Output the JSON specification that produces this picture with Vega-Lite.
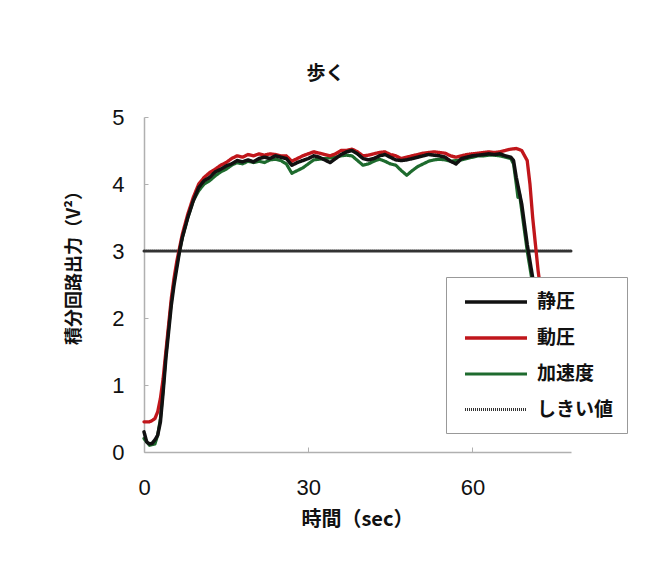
{
  "$schema": "https://vega.github.io/schema/vega-lite/v6.json",
  "autosize": {"type": "none"},
  "width": 427,
  "height": 335,
  "padding": {"left": 144, "top": 117, "right": 95, "bottom": 119},
  "background": "white",
  "config": {
    "view": {"stroke": null},
    "font": "Noto Sans CJK JP"
  },
  "title": {
    "text": "歩く",
    "fontSize": 19,
    "fontWeight": "bold",
    "font": "Noto Sans CJK JP",
    "color": "#111",
    "offset": 22,
    "dx": -32
  },
  "data": {
    "values": [
      {"s": "しきい値", "t": 0, "v": 3},
      {"s": "しきい値", "t": 78, "v": 3},

      {"s": "加速度", "t": 0, "v": 0.2}, {"s": "加速度", "t": 1, "v": 0.1}, {"s": "加速度", "t": 2, "v": 0.12},
      {"s": "加速度", "t": 2.5, "v": 0.25}, {"s": "加速度", "t": 3, "v": 0.5}, {"s": "加速度", "t": 3.5, "v": 0.95},
      {"s": "加速度", "t": 4, "v": 1.45}, {"s": "加速度", "t": 4.5, "v": 1.85}, {"s": "加速度", "t": 5, "v": 2.25},
      {"s": "加速度", "t": 5.5, "v": 2.55}, {"s": "加速度", "t": 6, "v": 2.8}, {"s": "加速度", "t": 6.5, "v": 3.0},
      {"s": "加速度", "t": 7, "v": 3.2}, {"s": "加速度", "t": 8, "v": 3.5}, {"s": "加速度", "t": 9, "v": 3.75},
      {"s": "加速度", "t": 10, "v": 3.9}, {"s": "加速度", "t": 11, "v": 4.0}, {"s": "加速度", "t": 12, "v": 4.05},
      {"s": "加速度", "t": 13, "v": 4.12}, {"s": "加速度", "t": 14, "v": 4.18}, {"s": "加速度", "t": 15, "v": 4.22},
      {"s": "加速度", "t": 16, "v": 4.28}, {"s": "加速度", "t": 17, "v": 4.32}, {"s": "加速度", "t": 18, "v": 4.3},
      {"s": "加速度", "t": 19, "v": 4.34}, {"s": "加速度", "t": 20, "v": 4.32}, {"s": "加速度", "t": 21, "v": 4.34},
      {"s": "加速度", "t": 22, "v": 4.32}, {"s": "加速度", "t": 23, "v": 4.36}, {"s": "加速度", "t": 24, "v": 4.37},
      {"s": "加速度", "t": 25, "v": 4.35}, {"s": "加速度", "t": 26, "v": 4.3}, {"s": "加速度", "t": 27, "v": 4.16},
      {"s": "加速度", "t": 28, "v": 4.2}, {"s": "加速度", "t": 29, "v": 4.24}, {"s": "加速度", "t": 30, "v": 4.3},
      {"s": "加速度", "t": 31, "v": 4.36}, {"s": "加速度", "t": 32, "v": 4.37}, {"s": "加速度", "t": 33, "v": 4.38},
      {"s": "加速度", "t": 34, "v": 4.39}, {"s": "加速度", "t": 35, "v": 4.4}, {"s": "加速度", "t": 36, "v": 4.42},
      {"s": "加速度", "t": 37, "v": 4.43}, {"s": "加速度", "t": 38, "v": 4.42}, {"s": "加速度", "t": 39, "v": 4.35},
      {"s": "加速度", "t": 40, "v": 4.28}, {"s": "加速度", "t": 41, "v": 4.3}, {"s": "加速度", "t": 42, "v": 4.34},
      {"s": "加速度", "t": 43, "v": 4.37}, {"s": "加速度", "t": 44, "v": 4.34}, {"s": "加速度", "t": 45, "v": 4.3},
      {"s": "加速度", "t": 46, "v": 4.28}, {"s": "加速度", "t": 47, "v": 4.2}, {"s": "加速度", "t": 48, "v": 4.13},
      {"s": "加速度", "t": 49, "v": 4.2}, {"s": "加速度", "t": 50, "v": 4.26}, {"s": "加速度", "t": 51, "v": 4.3},
      {"s": "加速度", "t": 52, "v": 4.34}, {"s": "加速度", "t": 53, "v": 4.36}, {"s": "加速度", "t": 54, "v": 4.37},
      {"s": "加速度", "t": 55, "v": 4.36}, {"s": "加速度", "t": 56, "v": 4.34}, {"s": "加速度", "t": 57, "v": 4.35},
      {"s": "加速度", "t": 58, "v": 4.36}, {"s": "加速度", "t": 59, "v": 4.38}, {"s": "加速度", "t": 60, "v": 4.4},
      {"s": "加速度", "t": 61, "v": 4.42}, {"s": "加速度", "t": 62, "v": 4.42}, {"s": "加速度", "t": 63, "v": 4.43},
      {"s": "加速度", "t": 64, "v": 4.43}, {"s": "加速度", "t": 65, "v": 4.42}, {"s": "加速度", "t": 66, "v": 4.4},
      {"s": "加速度", "t": 67, "v": 4.38}, {"s": "加速度", "t": 67.5, "v": 4.3}, {"s": "加速度", "t": 68, "v": 4.0},
      {"s": "加速度", "t": 68.3, "v": 3.8}, {"s": "加速度", "t": 68.6, "v": 3.85}, {"s": "加速度", "t": 69, "v": 3.6},
      {"s": "加速度", "t": 69.5, "v": 3.3}, {"s": "加速度", "t": 70, "v": 3.0}, {"s": "加速度", "t": 70.5, "v": 2.75},
      {"s": "加速度", "t": 71, "v": 2.5}, {"s": "加速度", "t": 71.5, "v": 2.2},

      {"s": "動圧", "t": 0, "v": 0.45}, {"s": "動圧", "t": 1, "v": 0.45}, {"s": "動圧", "t": 1.5, "v": 0.47},
      {"s": "動圧", "t": 2, "v": 0.5}, {"s": "動圧", "t": 2.5, "v": 0.6}, {"s": "動圧", "t": 3, "v": 0.8},
      {"s": "動圧", "t": 3.5, "v": 1.1}, {"s": "動圧", "t": 4, "v": 1.5}, {"s": "動圧", "t": 4.5, "v": 1.9},
      {"s": "動圧", "t": 5, "v": 2.3}, {"s": "動圧", "t": 5.5, "v": 2.6}, {"s": "動圧", "t": 6, "v": 2.85},
      {"s": "動圧", "t": 6.5, "v": 3.05}, {"s": "動圧", "t": 7, "v": 3.25}, {"s": "動圧", "t": 8, "v": 3.55},
      {"s": "動圧", "t": 9, "v": 3.8}, {"s": "動圧", "t": 10, "v": 4.0}, {"s": "動圧", "t": 11, "v": 4.1},
      {"s": "動圧", "t": 12, "v": 4.17}, {"s": "動圧", "t": 13, "v": 4.22}, {"s": "動圧", "t": 14, "v": 4.28},
      {"s": "動圧", "t": 15, "v": 4.32}, {"s": "動圧", "t": 16, "v": 4.38}, {"s": "動圧", "t": 17, "v": 4.42},
      {"s": "動圧", "t": 18, "v": 4.4}, {"s": "動圧", "t": 19, "v": 4.44}, {"s": "動圧", "t": 20, "v": 4.42},
      {"s": "動圧", "t": 21, "v": 4.45}, {"s": "動圧", "t": 22, "v": 4.43}, {"s": "動圧", "t": 23, "v": 4.45},
      {"s": "動圧", "t": 24, "v": 4.44}, {"s": "動圧", "t": 25, "v": 4.42}, {"s": "動圧", "t": 26, "v": 4.42},
      {"s": "動圧", "t": 27, "v": 4.34}, {"s": "動圧", "t": 28, "v": 4.38}, {"s": "動圧", "t": 29, "v": 4.42},
      {"s": "動圧", "t": 30, "v": 4.45}, {"s": "動圧", "t": 31, "v": 4.48}, {"s": "動圧", "t": 32, "v": 4.46},
      {"s": "動圧", "t": 33, "v": 4.44}, {"s": "動圧", "t": 34, "v": 4.42}, {"s": "動圧", "t": 35, "v": 4.45},
      {"s": "動圧", "t": 36, "v": 4.5}, {"s": "動圧", "t": 37, "v": 4.5}, {"s": "動圧", "t": 38, "v": 4.52},
      {"s": "動圧", "t": 39, "v": 4.48}, {"s": "動圧", "t": 40, "v": 4.42}, {"s": "動圧", "t": 41, "v": 4.43},
      {"s": "動圧", "t": 42, "v": 4.45}, {"s": "動圧", "t": 43, "v": 4.47}, {"s": "動圧", "t": 44, "v": 4.48},
      {"s": "動圧", "t": 45, "v": 4.44}, {"s": "動圧", "t": 46, "v": 4.42}, {"s": "動圧", "t": 47, "v": 4.38},
      {"s": "動圧", "t": 48, "v": 4.4}, {"s": "動圧", "t": 49, "v": 4.42}, {"s": "動圧", "t": 50, "v": 4.44},
      {"s": "動圧", "t": 51, "v": 4.46}, {"s": "動圧", "t": 52, "v": 4.47}, {"s": "動圧", "t": 53, "v": 4.48},
      {"s": "動圧", "t": 54, "v": 4.47}, {"s": "動圧", "t": 55, "v": 4.46}, {"s": "動圧", "t": 56, "v": 4.42},
      {"s": "動圧", "t": 57, "v": 4.4}, {"s": "動圧", "t": 58, "v": 4.42}, {"s": "動圧", "t": 59, "v": 4.44},
      {"s": "動圧", "t": 60, "v": 4.45}, {"s": "動圧", "t": 61, "v": 4.46}, {"s": "動圧", "t": 62, "v": 4.47},
      {"s": "動圧", "t": 63, "v": 4.48}, {"s": "動圧", "t": 64, "v": 4.47}, {"s": "動圧", "t": 65, "v": 4.48},
      {"s": "動圧", "t": 66, "v": 4.5}, {"s": "動圧", "t": 67, "v": 4.52}, {"s": "動圧", "t": 68, "v": 4.53},
      {"s": "動圧", "t": 69, "v": 4.5}, {"s": "動圧", "t": 70, "v": 4.35}, {"s": "動圧", "t": 70.5, "v": 4.0},
      {"s": "動圧", "t": 71, "v": 3.5}, {"s": "動圧", "t": 71.5, "v": 3.1}, {"s": "動圧", "t": 72, "v": 2.7},
      {"s": "動圧", "t": 72.5, "v": 2.4}, {"s": "動圧", "t": 73, "v": 2.0},

      {"s": "静圧", "t": 0, "v": 0.3}, {"s": "静圧", "t": 0.5, "v": 0.15}, {"s": "静圧", "t": 1, "v": 0.12},
      {"s": "静圧", "t": 1.5, "v": 0.13}, {"s": "静圧", "t": 2, "v": 0.18}, {"s": "静圧", "t": 2.5, "v": 0.25},
      {"s": "静圧", "t": 3, "v": 0.45}, {"s": "静圧", "t": 3.5, "v": 0.9}, {"s": "静圧", "t": 4, "v": 1.4},
      {"s": "静圧", "t": 4.5, "v": 1.8}, {"s": "静圧", "t": 5, "v": 2.2}, {"s": "静圧", "t": 5.5, "v": 2.5},
      {"s": "静圧", "t": 6, "v": 2.75}, {"s": "静圧", "t": 6.5, "v": 3.0}, {"s": "静圧", "t": 7, "v": 3.2},
      {"s": "静圧", "t": 8, "v": 3.5}, {"s": "静圧", "t": 9, "v": 3.75}, {"s": "静圧", "t": 10, "v": 3.95},
      {"s": "静圧", "t": 11, "v": 4.05}, {"s": "静圧", "t": 12, "v": 4.1}, {"s": "静圧", "t": 13, "v": 4.18},
      {"s": "静圧", "t": 14, "v": 4.22}, {"s": "静圧", "t": 15, "v": 4.27}, {"s": "静圧", "t": 16, "v": 4.3},
      {"s": "静圧", "t": 17, "v": 4.35}, {"s": "静圧", "t": 18, "v": 4.33}, {"s": "静圧", "t": 19, "v": 4.36},
      {"s": "静圧", "t": 20, "v": 4.33}, {"s": "静圧", "t": 21, "v": 4.38}, {"s": "静圧", "t": 22, "v": 4.4},
      {"s": "静圧", "t": 23, "v": 4.38}, {"s": "静圧", "t": 24, "v": 4.42}, {"s": "静圧", "t": 25, "v": 4.4},
      {"s": "静圧", "t": 26, "v": 4.38}, {"s": "静圧", "t": 27, "v": 4.28}, {"s": "静圧", "t": 28, "v": 4.32},
      {"s": "静圧", "t": 29, "v": 4.35}, {"s": "静圧", "t": 30, "v": 4.38}, {"s": "静圧", "t": 31, "v": 4.42},
      {"s": "静圧", "t": 32, "v": 4.4}, {"s": "静圧", "t": 33, "v": 4.36}, {"s": "静圧", "t": 34, "v": 4.32},
      {"s": "静圧", "t": 35, "v": 4.38}, {"s": "静圧", "t": 36, "v": 4.44}, {"s": "静圧", "t": 37, "v": 4.48},
      {"s": "静圧", "t": 38, "v": 4.5}, {"s": "静圧", "t": 39, "v": 4.45}, {"s": "静圧", "t": 40, "v": 4.38},
      {"s": "静圧", "t": 41, "v": 4.36}, {"s": "静圧", "t": 42, "v": 4.38}, {"s": "静圧", "t": 43, "v": 4.42},
      {"s": "静圧", "t": 44, "v": 4.44}, {"s": "静圧", "t": 45, "v": 4.4}, {"s": "静圧", "t": 46, "v": 4.36},
      {"s": "静圧", "t": 47, "v": 4.35}, {"s": "静圧", "t": 48, "v": 4.36}, {"s": "静圧", "t": 49, "v": 4.38},
      {"s": "静圧", "t": 50, "v": 4.4}, {"s": "静圧", "t": 51, "v": 4.42}, {"s": "静圧", "t": 52, "v": 4.44},
      {"s": "静圧", "t": 53, "v": 4.43}, {"s": "静圧", "t": 54, "v": 4.42}, {"s": "静圧", "t": 55, "v": 4.4},
      {"s": "静圧", "t": 56, "v": 4.34}, {"s": "静圧", "t": 57, "v": 4.3}, {"s": "静圧", "t": 58, "v": 4.38},
      {"s": "静圧", "t": 59, "v": 4.4}, {"s": "静圧", "t": 60, "v": 4.42}, {"s": "静圧", "t": 61, "v": 4.43},
      {"s": "静圧", "t": 62, "v": 4.44}, {"s": "静圧", "t": 63, "v": 4.45}, {"s": "静圧", "t": 64, "v": 4.44},
      {"s": "静圧", "t": 65, "v": 4.45}, {"s": "静圧", "t": 66, "v": 4.42}, {"s": "静圧", "t": 67, "v": 4.4},
      {"s": "静圧", "t": 67.5, "v": 4.35}, {"s": "静圧", "t": 68, "v": 4.1}, {"s": "静圧", "t": 68.5, "v": 3.9},
      {"s": "静圧", "t": 69, "v": 3.7}, {"s": "静圧", "t": 69.5, "v": 3.4}, {"s": "静圧", "t": 70, "v": 3.1},
      {"s": "静圧", "t": 70.5, "v": 2.85}, {"s": "静圧", "t": 71, "v": 2.6}, {"s": "静圧", "t": 71.5, "v": 2.3}
    ]
  },
  "mark": {"type": "line", "interpolate": "linear", "strokeJoin": "round", "strokeCap": "round"},
  "encoding": {
    "x": {
      "field": "t", "type": "quantitative",
      "scale": {"domain": [0, 78], "nice": false, "zero": false},
      "axis": {
        "values": [0, 30, 60],
        "title": "時間（sec）",
        "titleFont": "Noto Sans CJK JP", "titleFontSize": 20, "titleFontWeight": "bold", "titleColor": "#111",
        "titleX": 213, "titleY": 67, "titleBaseline": "middle", "titleAlign": "center", "titleAnchor": null,
        "labelFont": "Liberation Sans", "labelFontSize": 22, "labelColor": "#111", "labelPadding": 30,
        "labelFlush": false,
        "grid": false, "domainColor": "#b0b0b0", "domainWidth": 1.5,
        "tickColor": "#b0b0b0", "tickSize": -5
      }
    },
    "y": {
      "field": "v", "type": "quantitative",
      "scale": {"domain": [0, 5], "nice": false},
      "axis": {
        "values": [0, 1, 2, 3, 4, 5],
        "title": "積分回路出力（V²）",
        "titleFont": "Noto Sans CJK JP", "titleFontSize": 18, "titleFontWeight": "bold", "titleColor": "#111",
        "titleX": -70, "titleY": 146, "titleAngle": -90, "titleBaseline": "middle", "titleAlign": "center", "titleAnchor": null,
        "labelFont": "Liberation Sans", "labelFontSize": 22, "labelColor": "#111", "labelPadding": 24,
        "grid": false, "domainColor": "#b0b0b0", "domainWidth": 1.5,
        "tickColor": "#b0b0b0", "tickSize": -4
      }
    },
    "color": {
      "field": "s", "type": "nominal",
      "scale": {"domain": ["静圧", "動圧", "加速度", "しきい値"], "range": ["#111111", "#c0161b", "#1e6b2e", "#333333"]},
      "legend": {
        "title": null,
        "orient": "none", "legendX": 302, "legendY": 160,
        "fillColor": "white", "strokeColor": "#999999", "padding": 13,
        "labelFont": "Noto Sans CJK JP", "labelFontSize": 19, "labelFontWeight": "bold", "labelColor": "#111",
        "symbolType": "M-0.6,0H5.6", "symbolSize": 400, "symbolStrokeWidth": 2.5, "rowPadding": 14, "labelOffset": 54
      }
    },
    "strokeDash": {
      "field": "s", "type": "nominal",
      "scale": {"domain": ["静圧", "動圧", "加速度", "しきい値"], "range": [[1, 0], [1, 0], [1, 0], [1, 1]]}
    },
    "strokeWidth": {
      "field": "s", "type": "nominal",
      "scale": {"domain": ["静圧", "動圧", "加速度", "しきい値"], "range": [3.5, 3, 3, 1.4]},
      "legend": null
    }
  }
}
